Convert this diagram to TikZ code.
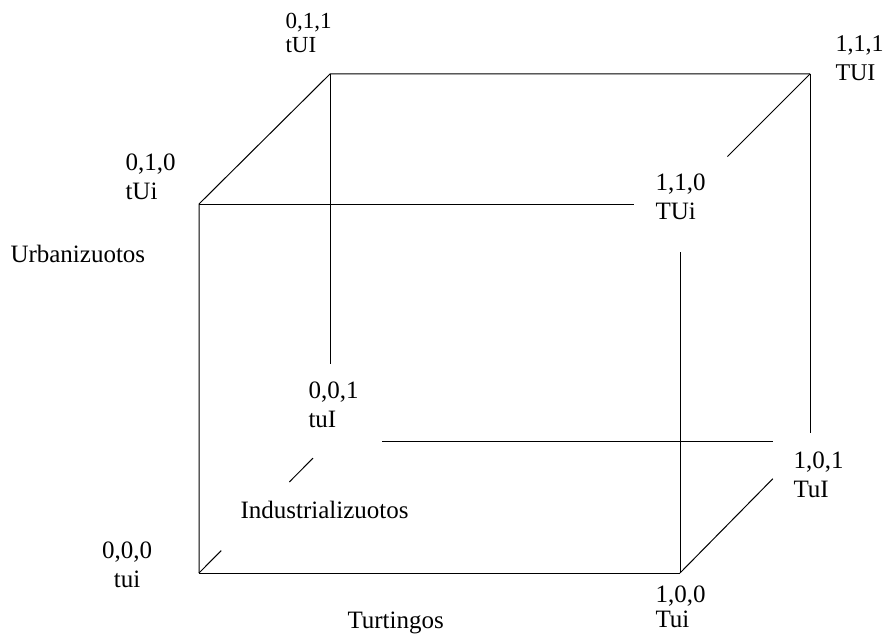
\documentclass[tikz,border=0pt]{standalone}
\usepackage{fontspec}
\setmainfont{Liberation Serif}
\usetikzlibrary{calc}

\begin{document}
\begin{tikzpicture}[x=1pt,y=-1pt,line width=1pt,
  every node/.style={font=\fontsize{25}{29}\selectfont,inner sep=0pt},
  vlabel/.style={align=left,anchor=north west},
  axislabel/.style={anchor=base west}]
  \useasboundingbox (0,0) rectangle (887,634);
  % cube corners
  \coordinate (c000) at (199,573);
  \coordinate (c010) at (199,204);
  \coordinate (c011) at (330,74);
  \coordinate (c111) at (810,74);
  \coordinate (c110) at (680,204);
  \coordinate (c100) at (680,573);
  \coordinate (c101) at (810,441);
  \coordinate (c001) at (330,441);
  % corner labels
  \node[vlabel,font=\fontsize{23}{24}\selectfont] (l011) at (285,13) {0,1,1\\tUI};
  \node[vlabel] (l010) at (125,153) {0,1,0\\tUi};
  \node[vlabel,font=\fontsize{24}{29}\selectfont] (l111) at (835,35) {1,1,1\\TUI};
  \node[vlabel] (l110) at (655,173) {1,1,0\\TUi};
  \node[vlabel] (l001) at (308,381) {0,0,1\\tuI};
  \node[vlabel] (l101) at (793,451) {1,0,1\\TuI};
  \node[align=center,anchor=north] (l000) at (127,541) {0,0,0\\tui};
  \node[vlabel,font=\fontsize{25}{25}\selectfont] (l100) at (655,585) {1,0,0\\Tui};
  % axes
  \node[axislabel] (urb) at (10,262) {Urbanizuotos};
  \node[axislabel] (ind) at (240,518) {Industrializuotos};
  \node[axislabel] (tur) at (347,628) {Turtingos};
  % edges
  \draw (c000) -- (c010) -- (c011) -- (c111);
  \draw (c000) -- (c100);
  \draw[shorten >=46pt] (c010) -- (c110);
  \draw[shorten <=48pt] (c110) -- (c100);
  \draw[shorten >=67pt] (c111) -- (c110);
  \draw[shorten >=8pt] (c111) -- (c101);
  \draw[shorten >=77pt] (c011) -- (c001);
  \draw[shorten <=52pt,shorten >=37pt] (c001) -- (c101);
  \draw[shorten >=53pt] (c100) -- (c101);
  \draw (c000) -- ($(c000)!0.17!(c001)$);
  \draw ($(c000)!0.69!(c001)$) -- ($(c000)!0.87!(c001)$);
\end{tikzpicture}
\end{document}
